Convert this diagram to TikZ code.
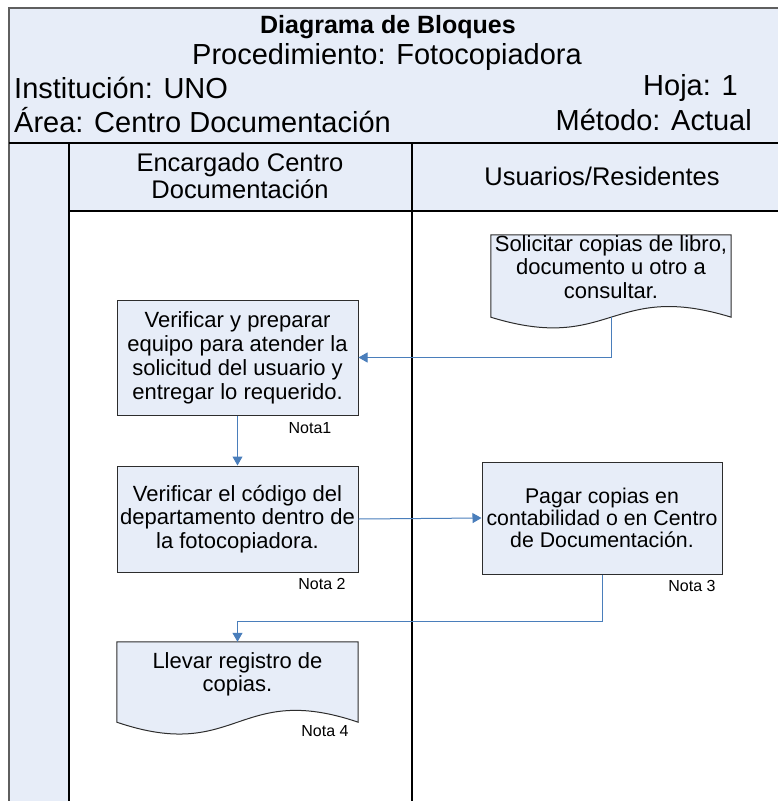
\documentclass[tikz,border=0pt]{standalone}
\usepackage{fontspec}
\setmainfont{Liberation Sans}
\usetikzlibrary{arrows.meta,calc,backgrounds}
\definecolor{lanefill}{RGB}{231,237,248}
\definecolor{flowblue}{RGB}{74,126,187}
\definecolor{edgegray}{RGB}{45,45,45}
\definecolor{framegray}{RGB}{95,95,95}

\begin{document}
\begin{tikzpicture}[x=1pt,y=-1pt,
  procbox/.style={draw=edgegray, line width=1pt, fill=lanefill, align=center,
    font=\fontsize{22}{24}\selectfont, inner sep=0pt, minimum width=241pt},
  doctext/.style={align=center, font=\fontsize{22}{23.5}\selectfont,
    inner sep=0pt, minimum width=240pt},
  docshape/.style={draw=edgegray, line width=1pt, fill=lanefill},
  nota/.style={font=\fontsize{16}{18}\selectfont, inner sep=0pt},
  flow/.style={draw=flowblue, line width=1pt, -{Triangle[width=10pt,length=9pt]}},
  lane/.style={line width=1.3pt, black},
  headtext/.style={font=\fontsize{29}{32}\selectfont, inner sep=0pt},
  colhead/.style={font=\fontsize{25.5}{27.5}\selectfont, inner sep=0pt, align=center},
]
\useasboundingbox (0,0) rectangle (778,801);

% header band, label strip and column headings
\fill[lanefill] (9,8) rectangle (778,143);
\fill[lanefill] (9,143) rectangle (69,801);
\fill[lanefill] (69,143) rectangle (778,211);
\draw[framegray, line width=2pt] (778,8) -- (9,8) -- (9,801);
\draw[black, line width=2.5pt] (9,143) -- (778,143);
\draw[lane] (69,143) -- (69,801);
\draw[lane] (412,143) -- (412,801);
\draw[lane] (69,211) -- (778,211);

% header texts
\node[font=\bfseries\fontsize{25}{28}\selectfont, inner sep=0pt] (title) at (388,27) {Diagrama de Bloques};
\node[headtext] (proc) at (387,57) {Procedimiento: Fotocopiadora};
\node[headtext, anchor=west] (inst) at (14,88) {Institución: UNO};
\node[headtext, anchor=east] (hoja) at (738,88) {Hoja: 1};
\node[headtext, anchor=west] (area) at (14,120) {Área: Centro Documentación};
\node[headtext, anchor=east] (metodo) at (752,120) {Método: Actual};

\node[colhead] (lane1) at (240,176) {Encargado Centro\\Documentación};
\node[colhead] (lane2) at (602,176) {Usuarios/Residentes};

% process steps
\node[doctext, minimum height=64pt] (d1) at (611,267)
  {Solicitar copias de libro,\\documento u otro a\\consultar.};
\node[procbox, minimum height=115pt] (b1) at (237.5,357.5)
  {Verificar y preparar\\equipo para atender la\\solicitud del usuario y\\entregar lo requerido.};
\node[procbox, minimum height=106pt, font=\fontsize{22}{23.5}\selectfont] (b2) at (237.5,519)
  {Verificar el código del\\departamento dentro de\\la fotocopiadora.};
\node[procbox, minimum width=240pt, minimum height=112pt, font=\fontsize{21.3}{22}\selectfont] (b3) at (602,518)
  {Pagar copias en\\contabilidad o en Centro\\de Documentación.};
\node[doctext, minimum width=241pt, minimum height=65pt] (d2) at (237.5,674.5)
  {Llevar registro de\\copias.};

% document outlines with wavy bottom edge
\begin{pgfonlayer}{background}
  \draw[docshape] (d1.north west) -- (d1.north east) -- ($(d1.south east)+(0,18)$)
    .. controls ($(d1.south)+(0,-19)$) and ($(d1.south)+(0,55)$) .. ($(d1.south west)+(0,18)$) -- cycle;
  \draw[docshape] (d2.north west) -- (d2.north east) -- ($(d2.south east)+(0,15)$)
    .. controls ($(d2.south)+(0,-26)$) and ($(d2.south)+(0,56)$) .. ($(d2.south west)+(0,15)$) -- cycle;
\end{pgfonlayer}
\coordinate (d1w) at ($(d1.south)+(0,18)$);

% notes
\node[nota] (n1) at (310,428) {Nota1};
\node[nota] (n2) at (322,584) {Nota 2};
\node[nota] (n3) at (692,586) {Nota 3};
\node[nota] (n4) at (325,731) {Nota 4};

% flow connectors
\draw[flow] (d1w) |- (b1.east);
\draw[flow] (b1.south) -- (b2.north);
\draw[flow] (b2.east) -- (b3.west);
\draw[flow] (b3.south) -- ++(0,47) -| (d2.north);
\end{tikzpicture}
\end{document}
